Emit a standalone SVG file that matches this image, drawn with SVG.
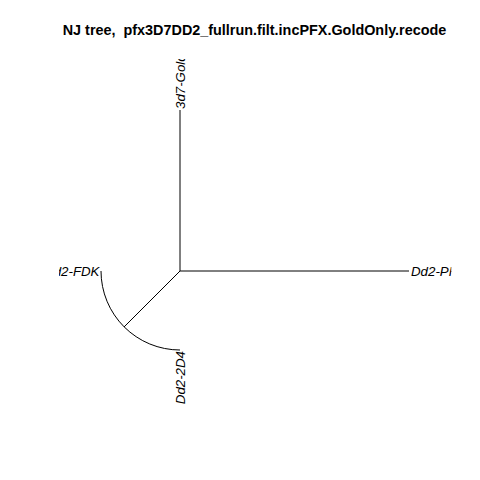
<svg xmlns="http://www.w3.org/2000/svg" width="480" height="480" viewBox="0 0 480 480">
<style>
.e{stroke:#000;stroke-width:1;fill:none}
.lab{font-family:"Liberation Sans",Arial,sans-serif;font-size:13.3px;font-style:italic;fill:#000}
.title{font-family:"Liberation Sans",Arial,sans-serif;font-size:14.4px;font-weight:bold;fill:#000}
</style>
<defs>
<clipPath id="plot"><rect x="59.04" y="59.04" width="392.3" height="347.52"/></clipPath>
</defs>
<rect width="480" height="480" fill="#fff"/>
<text class="title" x="254.5" y="35" text-anchor="middle" xml:space="preserve">NJ tree,  pfx3D7DD2_fullrun.filt.incPFX.GoldOnly.recode</text>
<g id="edges">
<line class="e" x1="180" y1="271" x2="180" y2="110"/>
<line class="e" x1="180" y1="271" x2="409" y2="271"/>
<line class="e" x1="180" y1="271" x2="124" y2="327"/>
<path class="e" d="M101,271 A79,79 0 0,0 180,350"/>
</g>
<g clip-path="url(#plot)">
<g id="n-top"><text class="lab" transform="translate(184.8,109) rotate(-90)">3d7-GoldOnly</text></g>
<g id="n-right"><text class="lab" x="411" y="275.8">Dd2-PH</text></g>
<g id="n-left"><text class="lab" x="99.5" y="275.8" text-anchor="end">Dd2-FDK</text></g>
<g id="n-bottom"><text class="lab" transform="translate(184.8,351) rotate(-90)" text-anchor="end">Dd2-2D4</text></g>
</g>
</svg>
